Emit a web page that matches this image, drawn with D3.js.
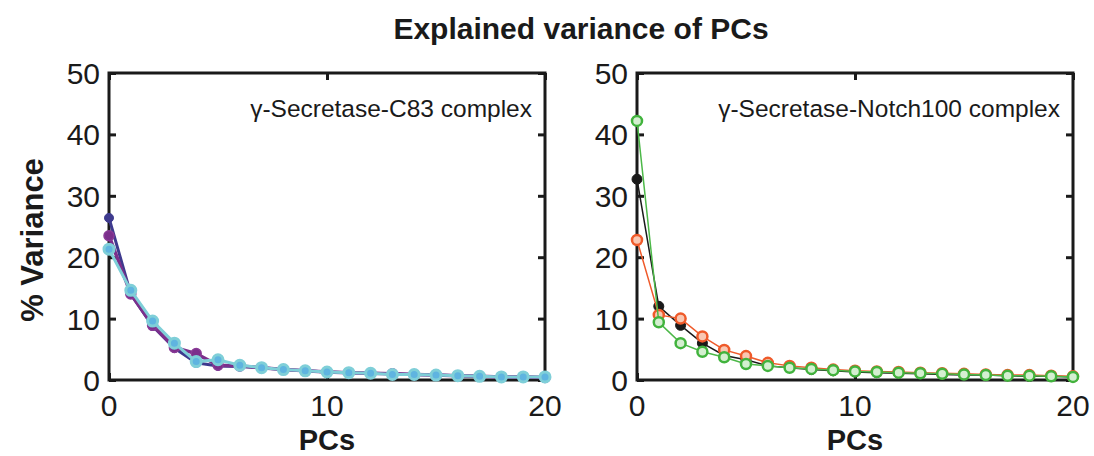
<!DOCTYPE html>
<html>
<head>
<meta charset="utf-8">
<script src="https://cdn.jsdelivr.net/npm/d3@7"></script>
<style>
  body { margin: 0; background: #fff; }
  text { font-family: "Liberation Sans", Arial, sans-serif; fill: #1a1a1a; }
</style>
</head>
<body>
<svg id="chart"></svg>
<script>
// PC index 0..20
const pcs = d3.range(0, 21);
const xTicks = [0, 10, 20];
const yTicks = [0, 10, 20, 30, 40, 50];

// left panel: gamma-Secretase-C83 complex
const c83Indigo = [26.4, 14.0, 8.8, 5.2, 2.8, 2.3, 2.2, 2.0, 1.7, 1.5, 1.3, 1.2, 1.1, 1.0, 0.9, 0.8, 0.7, 0.6, 0.5, 0.5, 0.4];
const c83Purple = [23.5, 14.0, 8.9, 5.3, 4.3, 2.4, 2.3, 2.0, 1.7, 1.5, 1.3, 1.2, 1.1, 1.0, 0.9, 0.8, 0.7, 0.6, 0.5, 0.5, 0.4];
const c83Cyan = [21.3, 14.6, 9.6, 6.0, 3.0, 3.3, 2.4, 2.0, 1.7, 1.5, 1.3, 1.2, 1.1, 0.9, 0.9, 0.8, 0.7, 0.6, 0.5, 0.5, 0.5];

// right panel: gamma-Secretase-Notch100 complex
const notchBlack = [32.7, 12.0, 8.9, 6.0, 4.0, 3.3, 2.3, 2.0, 1.7, 1.5, 1.3, 1.2, 1.1, 1.0, 0.9, 0.8, 0.8, 0.7, 0.6, 0.6, 0.5];
const notchOrange = [22.8, 10.6, 10.0, 7.1, 4.9, 3.9, 2.8, 2.3, 2.0, 1.7, 1.5, 1.4, 1.3, 1.2, 1.1, 1.0, 0.9, 0.8, 0.8, 0.7, 0.6];
const notchGreen = [42.2, 9.4, 6.0, 4.6, 3.7, 2.6, 2.3, 2.0, 1.8, 1.6, 1.4, 1.3, 1.2, 1.1, 1.0, 0.9, 0.8, 0.7, 0.7, 0.6, 0.5];

const w = 1094;
const h = 456;
const plotTop = 73;
const plotBottom = 380;

const svg = d3.select("#chart").attr("width", w).attr("height", h);

svg.append("text")
  .attr("x", 581).attr("y", 39)
  .attr("text-anchor", "middle")
  .style("font-size", "30px").style("font-weight", "bold")
  .text("Explained variance of PCs");

svg.append("text")
  .attr("transform", "translate(43,240) rotate(-90)")
  .attr("text-anchor", "middle")
  .style("font-size", "31px").style("font-weight", "bold")
  .text("% Variance");

const yScale = d3.scaleLinear().domain([0, 50]).range([plotBottom, plotTop]);

function panel(x0, x1, label, series) {
  const xScale = d3.scaleLinear().domain([0, 20]).range([x0, x1]);
  const g = svg.append("g");

  // ticks pointing inward on all four sides
  g.append("g").attr("transform", `translate(0,${plotBottom})`)
    .call(d3.axisTop(xScale).tickValues(xTicks).tickSize(7).tickFormat(""));
  g.append("g").attr("transform", `translate(0,${plotTop})`)
    .call(d3.axisBottom(xScale).tickValues(xTicks).tickSize(7).tickFormat(""));
  g.append("g").attr("transform", `translate(${x0},0)`)
    .call(d3.axisRight(yScale).tickValues(yTicks).tickSize(7).tickFormat(""));
  g.append("g").attr("transform", `translate(${x1},0)`)
    .call(d3.axisLeft(yScale).tickValues(yTicks).tickSize(7).tickFormat(""));
  g.selectAll(".domain").remove();
  g.selectAll(".tick line").attr("stroke", "#1a1a1a").attr("stroke-width", 3);

  g.append("rect")
    .attr("x", x0).attr("y", plotTop)
    .attr("width", x1 - x0).attr("height", plotBottom - plotTop)
    .attr("fill", "none").attr("stroke", "#1a1a1a").attr("stroke-width", 3);

  // tick labels
  g.selectAll(".xl").data(xTicks).enter().append("text")
    .attr("x", (d) => xScale(d)).attr("y", 416)
    .attr("text-anchor", "middle").style("font-size", "30px")
    .text((d) => d);
  g.selectAll(".yl").data(yTicks).enter().append("text")
    .attr("x", x0 - 9).attr("y", (d) => yScale(d) + 11)
    .attr("text-anchor", "end").style("font-size", "30px")
    .text((d) => d);

  g.append("text")
    .attr("x", (x0 + x1) / 2).attr("y", 450)
    .attr("text-anchor", "middle")
    .style("font-size", "29px").style("font-weight", "bold")
    .text("PCs");

  g.append("text")
    .attr("x", x1 - 13).attr("y", 117)
    .attr("text-anchor", "end").style("font-size", "24.5px")
    .text(label);

  const line = d3.line().x((d, i) => xScale(pcs[i])).y((d) => yScale(d));

  series.forEach((s) => {
    g.append("path").datum(s.values)
      .attr("d", line)
      .attr("fill", "none")
      .attr("stroke", s.line)
      .attr("stroke-width", s.lw);
    g.selectAll(null).data(s.values).enter().append("circle")
      .attr("cx", (d, i) => xScale(pcs[i]))
      .attr("cy", (d) => yScale(d))
      .attr("r", s.r)
      .attr("fill", s.fill)
      .attr("stroke", s.stroke)
      .attr("stroke-width", s.sw);
  });
}

panel(109, 545, "\u03b3-Secretase-C83 complex", [
  { values: c83Indigo, line: "#3e3a8e", lw: 3, r: 4.5, fill: "#3e3a8e", stroke: "#3e3a8e", sw: 1 },
  { values: c83Purple, line: "#7b2f8c", lw: 3.5, r: 5, fill: "#7b2f8c", stroke: "#8a3a96", sw: 1.5 },
  { values: c83Cyan, line: "#7fcfd8", lw: 3, r: 5, fill: "#5fb4e0", stroke: "#7fcfd8", sw: 3 }
]);

panel(637, 1073, "\u03b3-Secretase-Notch100 complex", [
  { values: notchBlack, line: "#1a1a1a", lw: 1.5, r: 5, fill: "#1a1a1a", stroke: "#1a1a1a", sw: 1 },
  { values: notchOrange, line: "#ef5a2a", lw: 1.5, r: 5, fill: "#f9c7b2", stroke: "#ef5a2a", sw: 2.5 },
  { values: notchGreen, line: "#4cb848", lw: 1.5, r: 5, fill: "#d4efd0", stroke: "#41b33d", sw: 2.5 }
]);
</script>
</body>
</html>
